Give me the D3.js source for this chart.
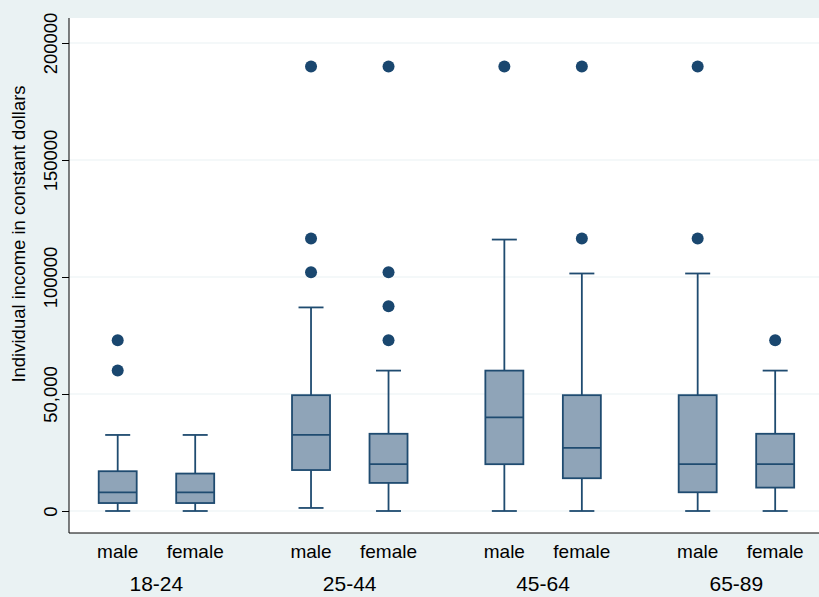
<!DOCTYPE html>
<html><head><meta charset="utf-8">
<script src="https://cdn.jsdelivr.net/npm/d3@7"></script>
<style>body{margin:0;background:#eaf2f3;} text{font-family:"Liberation Sans",Arial,sans-serif;fill:#000;}</style>
</head><body><div id="vis"></div>
<script>
var width = 819, height = 597;

var groups = ["18-24", "25-44", "45-64", "65-89"];
var sexes = ["male", "female"];
// one entry per box, in order group x sex
var whiskLo = [0, 0, 1300, 0, 0, 0, 0, 0];
var q1 = [3400, 3400, 17500, 12000, 20000, 14000, 8000, 10000];
var median = [8000, 8000, 32500, 20000, 40000, 27000, 20000, 20000];
var q3 = [17000, 16000, 49500, 33000, 60000, 49500, 49500, 33000];
var whiskHi = [32500, 32500, 87000, 60000, 116000, 101500, 101500, 60000];
var outliers = [[73000, 60000], [], [190000, 116500, 102000], [190000, 102000, 87500, 73000],
                [190000], [190000, 116500], [190000, 116500], [73000]];
var yTicks = [0, 50000, 100000, 150000, 200000];
var yTickLabels = ["0", "50,000", "100000", "150000", "200000"];

var boxes = [];
groups.forEach(function(g, gi) {
    sexes.forEach(function(s, si) {
        var i = gi * 2 + si;
        boxes.push({group: g, sex: s, lo: whiskLo[i], q1: q1[i], med: median[i], q3: q3[i], hi: whiskHi[i], out: outliers[i]});
    });
});

var margin = {top: 18, bottom: 64, left: 69};
var svg = d3.select('#vis').append('svg').attr('width', width).attr('height', height);

svg.append('rect').attr('x', margin.left).attr('y', margin.top)
    .attr('width', width - margin.left).attr('height', height - margin.top - margin.bottom)
    .attr('fill', '#fff');

var y = d3.scaleLinear().domain([0, 200000]).range([511, 43]);
var xg = d3.scaleBand().domain(groups).range([59.7, 833]);
var xs = d3.scalePoint().domain(sexes).range([58, 135.5]);
function cx(d) { return xg(d.group) + xs(d.sex); }

var boxW = 38, capW = 25;
var stroke = '#1f4b70';

// gridlines
svg.selectAll('.grid').data(yTicks).enter().append('line')
    .attr('x1', margin.left).attr('x2', width)
    .attr('y1', function(d) { return y(d); }).attr('y2', function(d) { return y(d); })
    .attr('stroke', '#eaf2f3').attr('stroke-width', 1.2);

// axes
var yAxis = d3.axisLeft(y).tickValues(yTicks).tickSize(7)
    .tickFormat(function(d, i) { return yTickLabels[i]; });
var ya = svg.append('g').attr('transform', 'translate(' + margin.left + ',0)').call(yAxis);
ya.select('.domain').attr('d', 'M0,' + margin.top + 'V' + (height - margin.bottom)).attr('stroke', '#000');
ya.selectAll('.tick line').attr('stroke', '#000');
ya.selectAll('.tick text').attr('transform', 'rotate(-90)').attr('x', 0).attr('y', -12)
    .attr('dy', 0).style('text-anchor', 'middle').style('font-size', '18.5px')
    .style('font-family', '"Liberation Sans",Arial,sans-serif');

svg.append('line').attr('x1', margin.left).attr('x2', width)
    .attr('y1', height - margin.bottom).attr('y2', height - margin.bottom).attr('stroke', '#000');

svg.append('text').attr('transform', 'rotate(-90)').attr('x', -234).attr('y', 25)
    .attr('text-anchor', 'middle').style('font-size', '18.5px')
    .text('Individual income in constant dollars');

// boxes
var b = svg.selectAll('.box').data(boxes).enter().append('g').attr('class', 'box');
b.append('line').attr('x1', cx).attr('x2', cx)
    .attr('y1', function(d) { return y(d.lo); }).attr('y2', function(d) { return y(d.hi); })
    .attr('stroke', stroke).attr('stroke-width', 1.8);
b.selectAll('.cap').data(function(d) { return [{x: cx(d), v: d.lo}, {x: cx(d), v: d.hi}]; })
    .enter().append('line')
    .attr('x1', function(d) { return d.x - capW / 2; }).attr('x2', function(d) { return d.x + capW / 2; })
    .attr('y1', function(d) { return y(d.v); }).attr('y2', function(d) { return y(d.v); })
    .attr('stroke', stroke).attr('stroke-width', 1.8);
b.append('rect').attr('x', function(d) { return cx(d) - boxW / 2; }).attr('width', boxW)
    .attr('y', function(d) { return y(d.q3); })
    .attr('height', function(d) { return y(d.q1) - y(d.q3); })
    .attr('fill', '#8fa4b8').attr('stroke', stroke).attr('stroke-width', 1.8);
b.append('line').attr('x1', function(d) { return cx(d) - boxW / 2; }).attr('x2', function(d) { return cx(d) + boxW / 2; })
    .attr('y1', function(d) { return y(d.med); }).attr('y2', function(d) { return y(d.med); })
    .attr('stroke', stroke).attr('stroke-width', 1.8);
b.selectAll('.out').data(function(d) { return d.out.map(function(v) { return {x: cx(d), v: v}; }); })
    .enter().append('circle')
    .attr('cx', function(d) { return d.x; }).attr('cy', function(d) { return y(d.v); })
    .attr('r', 6).attr('fill', '#1a476f');

// x labels
svg.selectAll('.sexlab').data(boxes).enter().append('text')
    .attr('x', cx).attr('y', 558).attr('text-anchor', 'middle').style('font-size', '19px')
    .text(function(d) { return d.sex; });
svg.selectAll('.grplab').data(groups).enter().append('text')
    .attr('x', function(d) { return xg(d) + xg.bandwidth() / 2; }).attr('y', 591)
    .attr('text-anchor', 'middle').style('font-size', '21px')
    .text(function(d) { return d; });
</script></body></html>
